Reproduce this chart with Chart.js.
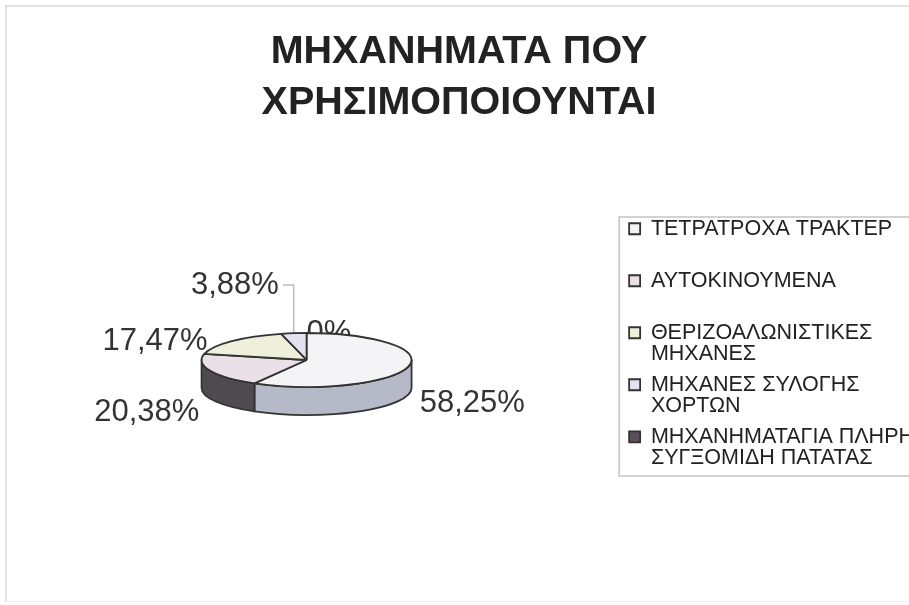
<!DOCTYPE html>
<html>
<head>
<meta charset="utf-8">
<script src="https://cdn.jsdelivr.net/npm/chart.js@4.4.1/dist/chart.umd.min.js"></script>
<style>
	html, body { margin: 0; padding: 0; background: #fff; overflow: hidden; width: 909px; height: 605px; }
	#frame { position: absolute; left: 5px; top: 5px; width: 910px; height: 594px; border-top: 2px solid #e2e2e2; border-left: 2px solid #e2e2e2; border-bottom: 1px solid #efefef; }
	#wrap { position: absolute; left: -6px; top: 0; }
</style>
</head>
<body>
<div id="frame"></div>
<div id="wrap"><canvas id="pieChart" width="930" height="605"></canvas></div>
<script>
const categories = [
	["ΤΕΤΡΑΤΡΟΧΑ ΤΡΑΚΤΕΡ"],
	["ΑΥΤΟΚΙΝΟΥΜΕΝΑ"],
	["ΘΕΡΙΖΟΑΛΩΝΙΣΤΙΚΕΣ", "ΜΗΧΑΝΕΣ"],
	["ΜΗΧΑΝΕΣ ΣΥΛΟΓΗΣ", "ΧΟΡΤΩΝ"],
	["ΜΗΧΑΝΗΜΑΤΑΓΙΑ ΠΛΗΡΗ", "ΣΥΓΞΟΜΙΔΗ ΠΑΤΑΤΑΣ"],
];
const percentages = [58.25, 20.38, 17.47, 3.88, 0];
const titleLines = ["ΜΗΧΑΝΗΜΑΤΑ ΠΟΥ", "ΧΡΗΣΙΜΟΠΟΙΟΥΝΤΑΙ"];

const topColors = ["#f4f4f7", "#e9e1e7", "#eef0dc", "#e2e3ee", "#5c4f5c"];
const sideColors = ["#b6b9c8", "#4f4a50", "#c9cbb6", "#b9bccb", "#3f343f"];
const fontFamily = "'Liberation Sans', Arial, sans-serif";

// every legend entry takes two lines, like the excel legend
const legendLabels = categories.map(c => c.length > 1 ? c : [c[0], ""]);

function pctText(v) {
	return String(v).replace(".", ",") + "%";
}

// labels of the back half go under the pie, the front ones on top
function drawLabels(chart, opts, back) {
	const ctx = chart.ctx;
	const arcs = chart.getDatasetMeta(0).data;
	const k = opts.tilt;
	const depth = opts.depth;
	const total = percentages.reduce((a, b) => a + b, 0);
	ctx.save();
	ctx.font = "31px " + fontFamily;
	ctx.fillStyle = "#333";
	ctx.textBaseline = "middle";
	arcs.forEach((arc, i) => {
		const v = percentages[i];
		const m = (arc.startAngle + arc.endAngle) / 2;
		const c = Math.cos(m), s = Math.sin(m);
		if ((s < 0) !== back) return;
		const r = arc.outerRadius;
		if (v > 0 && v / total < 0.05) {
			// small slice: leader line up and to the side
			const rx = arc.x + r * c;
			const ry = arc.y + r * k * s;
			const ty = arc.y - r * k - 48;
			const dir = c < 0 ? -1 : 1;
			ctx.beginPath();
			ctx.moveTo(rx, ry);
			ctx.lineTo(rx, ty);
			ctx.lineTo(rx + dir * 11, ty);
			ctx.lineWidth = 1;
			ctx.strokeStyle = "#9a9a9a";
			ctx.stroke();
			ctx.textAlign = dir < 0 ? "right" : "left";
			ctx.fillText(pctText(v), rx + dir * 15, ty);
			return;
		}
		let px, py;
		if (back) {
			px = arc.x + (r + 34) * c;
			py = arc.y + r * k * s;
		} else {
			px = arc.x + (r + 12) * c;
			py = arc.y + (r * k + 34) * s + depth;
		}
		ctx.textAlign = c > -1e-6 ? "left" : "right";
		ctx.fillText(pctText(v), px, py);
	});
	ctx.restore();
}

// fake 3d: walls drawn from the arc geometry, tops squashed
const pie3d = {
	id: "pie3d",
	beforeDatasetsDraw(chart, args, opts) {
		drawLabels(chart, opts, true);
		const ctx = chart.ctx;
		const arcs = chart.getDatasetMeta(0).data;
		const k = opts.tilt;
		const depth = opts.depth;
		arcs.forEach((arc, i) => {
			const s = Math.max(arc.startAngle, 0);
			const e = Math.min(arc.endAngle, Math.PI);
			if (e <= s) return;
			const r = arc.outerRadius;
			ctx.save();
			ctx.beginPath();
			ctx.ellipse(arc.x, arc.y, r, r * k, 0, s, e);
			ctx.lineTo(arc.x + r * Math.cos(e), arc.y + r * k * Math.sin(e) + depth);
			ctx.ellipse(arc.x, arc.y + depth, r, r * k, 0, e, s, true);
			ctx.closePath();
			ctx.fillStyle = sideColors[i];
			ctx.fill();
			ctx.lineWidth = 1.8;
			ctx.lineJoin = "round";
			ctx.strokeStyle = "#333";
			ctx.stroke();
			ctx.restore();
		});
		const base = ctx.getTransform();
		const cx = arcs[0].x, cy = arcs[0].y;
		ctx.save();
		ctx.translate(cx, cy);
		ctx.scale(1, k);
		ctx.translate(-cx, -cy);
		// keep border width even after the squash
		ctx.stroke = function () {
			this.save();
			this.setTransform(base);
			CanvasRenderingContext2D.prototype.stroke.call(this);
			this.restore();
		};
	},
	afterDatasetsDraw(chart, args, opts) {
		const ctx = chart.ctx;
		delete ctx.stroke;
		ctx.restore();
		drawLabels(chart, opts, false);
	},
	afterDraw(chart) {
		// thin box round the legend
		const lg = chart.legend;
		const hb = lg.legendHitBoxes;
		if (!hb.length) return;
		const last = hb[hb.length - 1];
		const top = hb[0].top - 1;
		const bottom = last.top + last.height + 8;
		const ctx = chart.ctx;
		ctx.save();
		ctx.strokeStyle = "#c4c4c4";
		ctx.lineWidth = 1.5;
		ctx.strokeRect(lg.left, top, lg.right - lg.left + 20, bottom - top);
		ctx.restore();
	},
};

const ctx = document.getElementById("pieChart").getContext("2d");

const pieChart = new Chart(ctx, {
	type: "pie",
	data: {
		labels: legendLabels,
		datasets: [{
			data: percentages,
			backgroundColor: topColors,
			borderColor: "#333",
			borderWidth: 1.8,
			radius: 105,
			hoverOffset: 0,
		}, ],
	},
	options: {
		responsive: false,
		animation: false,
		devicePixelRatio: 1,
		layout: {
			padding: { left: 0, right: 0, top: 0, bottom: 93 },
		},
		plugins: {
			title: {
				display: true,
				text: titleLines,
				color: "#222",
				font: { family: fontFamily, size: 39.5, weight: "bold", lineHeight: 1.291 },
				padding: { top: 26.5, bottom: 79.5 },
			},
			legend: {
				position: "right",
				align: "start",
				fullSize: false,
				labels: {
					color: "#222",
					font: { family: fontFamily, size: 21.5, lineHeight: 0.977 },
					boxWidth: 11,
					boxHeight: 11,
					padding: 10,
				},
			},
			tooltip: { enabled: false },
			pie3d: { tilt: 0.257, depth: 28 },
		},
	},
	plugins: [pie3d],
});
</script>
</body>
</html>
